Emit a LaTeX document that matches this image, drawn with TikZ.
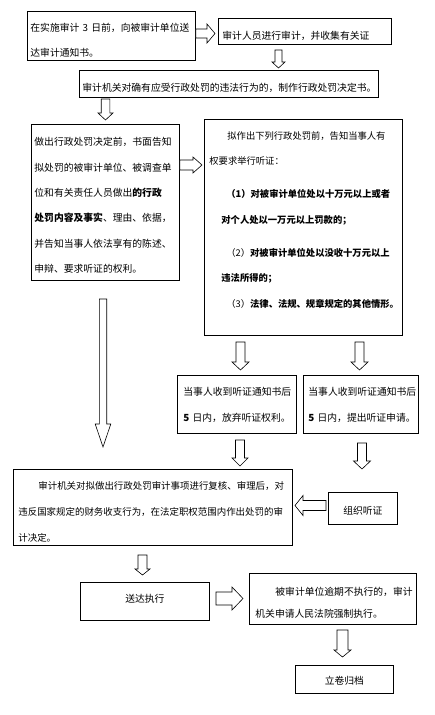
\documentclass[tikz,border=0pt]{standalone}
\usepackage{fontspec}
\setmainfont{Noto Sans CJK SC}
\usetikzlibrary{calc}
\tikzset{
  box/.style={draw, line width=0.8pt, anchor=north west, inner ysep=0pt, align=left, font=\fontsize{9.8}{25.4}\selectfont},
  cbox/.style={box, align=center, inner xsep=0pt},
  blkarrow/.style={draw, line width=0.6pt, fill=white, line join=miter}
}
% hollow block arrow: #1 start, #2 tip, #3 shaft half width, #4 head half width, #5 head length
\newcommand\blk[5]{\draw[blkarrow] ($(#1)!#3!90:(#2)$) -- ($(#2)!#5!(#1)!#3!-90:(#1)$) -- ($(#2)!#5!(#1)!#4!-90:(#1)$) -- (#2) -- ($(#2)!#5!(#1)!#4!90:(#1)$) -- ($(#2)!#5!(#1)!#3!90:(#1)$) -- ($(#1)!#3!-90:(#2)$) -- cycle;}
\begin{document}
\begin{tikzpicture}[x=1pt,y=-1pt]
\fill[white] (0,0) rectangle (435,715);
\useasboundingbox (0,0) rectangle (435,715);

\node[box, inner xsep=3pt, text width=162pt, text height=19.6pt, text depth=29.4pt] (b1) at (27,11) {\mbox{在实施审计 3 日前，向被审计单位送}\\达审计通知书。};
\node[box, inner xsep=4pt, text width=165pt, text height=20.6pt, text depth=5.4pt] (b2) at (218,18) {审计人员进行审计，并收集有关证};
\node[box, inner xsep=3pt, text width=293pt, text height=21pt, text depth=6pt] (b3) at (79,70) {审计机关对确有应受行政处罚的违法行为的，制作行政处罚决定书。};
\node[box, inner xsep=3pt, text width=142pt, text height=21.3pt, text depth=134.7pt] (b4) at (31,124) {做出行政处罚决定前，书面告知\\拟处罚的被审计单位、被调查单\\位和有关责任人员做出\textbf{的行政}\\\textbf{处罚内容及事实}、理由、依据，\\并告知当事人依法享有的陈述、\\申辩、要求听证的权利。};
\node[box, inner xsep=5pt, text width=188pt, text height=19.6pt, text depth=196.4pt, font=\fontsize{9.3}{25.5}\selectfont] (b5) at (204,119) {\hspace*{18pt}拟作出下列行政处罚前，告知当事人有\\权要求举行听证：\\[7.5pt]\hspace*{17pt}\textbf{（1）对被审计单位处以十万元以上或者}\\\hspace*{12pt}\textbf{对个人处以一万元以上罚款的；}\\[7.5pt]\hspace*{17pt}（2）\textbf{对被审计单位处以没收十万元以上}\\\hspace*{12pt}\textbf{违法所得的；}\\[0.5pt]\hspace*{17pt}（3）\textbf{法律、法规、规章规定的其他情形。}};
\node[box, inner xsep=6pt, text width=107pt, text height=20.3pt, text depth=37.7pt, font=\fontsize{9.8}{25.3}\selectfont] (b6) at (177,375) {当事人收到听证通知书后\\\mbox{\textbf{5} 日内，放弃听证权利。}};
\node[box, inner xsep=5pt, text width=105pt, text height=20.3pt, text depth=37.7pt, font=\fontsize{9.8}{25.3}\selectfont] (b7) at (303,375) {当事人收到听证通知书后\\\mbox{\textbf{5} 日内，提出听证申请。}};
\node[box, inner xsep=5pt, text width=269pt, text height=19.6pt, text depth=56.4pt, font=\fontsize{9.45}{26}\selectfont] (b8) at (13,469) {\hspace*{20pt}审计机关对拟做出行政处罚审计事项进行复核、审理后，对\\违反国家规定的财务收支行为，在法定职权范围内作出处罚的审\\计决定。};
\node[cbox, text width=69pt, text height=21.6pt, text depth=10.4pt] (b9) at (328,492) {组织听证};
\node[cbox, text width=129pt, text height=19.6pt, text depth=18.4pt] (b10) at (80,582) {送达执行};
\node[box, inner xsep=6pt, text width=155pt, text height=21.6pt, text depth=29.4pt, font=\fontsize{9.8}{22}\selectfont] (b11) at (249,573) {\hspace*{20pt}被审计单位逾期不执行的，审计\\机关申请人民法院强制执行。};
\node[cbox, text width=98pt, text height=19.3pt, text depth=8.7pt] (b12) at (295,665) {立卷归档};

% arrow end points
\coordinate (a1s) at (b1.east |- 0,33.5);  \coordinate (a1e) at (215,33.5);
\coordinate (a2s) at (278.5,50);  \coordinate (a2e) at (278.5,68);
\coordinate (a3s) at (105.5,99);  \coordinate (a3e) at (105.5,120);
\coordinate (a4s) at (b4.east |- 0,165); \coordinate (a4e) at (202,165);
\coordinate (a5s) at (240.5,342); \coordinate (a5e) at (240.5,370);
\coordinate (a6s) at (359.5,342); \coordinate (a6e) at (359.5,370);
\coordinate (a7s) at (240,440);   \coordinate (a7e) at (240,466);
\coordinate (a8s) at (362,443);   \coordinate (a8e) at (362,469);
\coordinate (a9s) at (103,299);   \coordinate (a9e) at (103,447);
\coordinate (a10s) at (326,505.5); \coordinate (a10e) at (295,505.5);
\coordinate (a11s) at (142.5,555); \coordinate (a11e) at (142.5,575);
\coordinate (a12s) at (216,598.5); \coordinate (a12e) at (243,598.5);
\coordinate (a13s) at (342.5,630); \coordinate (a13e) at (342.5,657);

\blk{a1s}{a1e}{4.5pt}{9.5pt}{8pt}
\blk{a2s}{a2e}{3.5pt}{6.5pt}{6pt}
\blk{a3s}{a3e}{4.3pt}{7.5pt}{7pt}
\blk{a4s}{a4e}{5pt}{8pt}{9pt}
\blk{a5s}{a5e}{4.5pt}{8.5pt}{8pt}
\blk{a6s}{a6e}{4.5pt}{8.5pt}{8pt}
\blk{a7s}{a7e}{4.5pt}{8pt}{8pt}
\blk{a8s}{a8e}{4.5pt}{8.5pt}{8pt}
\blk{a9s}{a9e}{3.7pt}{7.8pt}{23pt}
\blk{a10s}{a10e}{5pt}{10pt}{8pt}
\blk{a11s}{a11e}{4.5pt}{7.5pt}{6pt}
\blk{a12s}{a12e}{6.5pt}{11.5pt}{11pt}
\blk{a13s}{a13e}{5.5pt}{8.5pt}{7pt}
\end{tikzpicture}
\end{document}
